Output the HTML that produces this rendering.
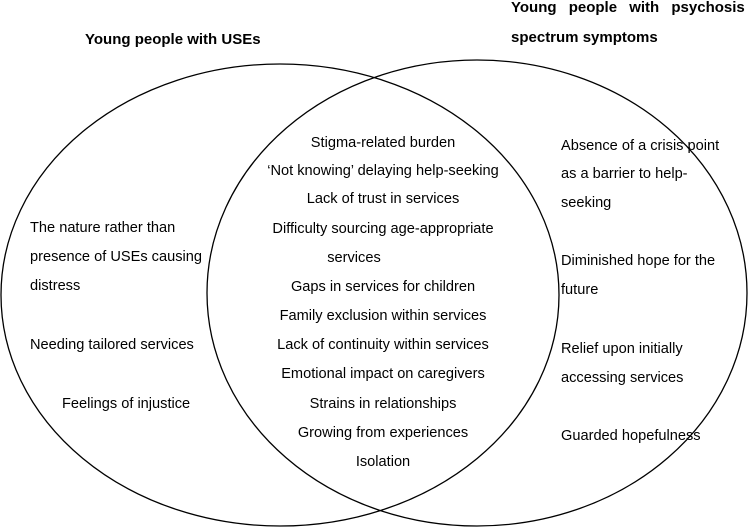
<!DOCTYPE html>
<html><head><meta charset="utf-8"><style>
body{margin:0;width:750px;height:529px;background:#fff;position:relative;overflow:hidden;font-family:"Liberation Sans",sans-serif;color:#000}
svg{position:absolute;left:0;top:0}
.t{position:absolute;font-size:14.6px;white-space:nowrap;line-height:16px;transform:translateY(-8px)}
.c{left:383px;transform:translate(-50%,-8px)}
.b{font-weight:bold;font-size:15px}
</style></head><body>
<svg width="750" height="529"><ellipse cx="280" cy="295" rx="279" ry="231" fill="none" stroke="#000" stroke-width="1.3"/><ellipse cx="477" cy="293" rx="270" ry="233" fill="none" stroke="#000" stroke-width="1.3"/></svg>
<div class="t b" style="left:85px;top:40px">Young people with USEs</div>
<div class="t b" style="left:511px;top:8px;word-spacing:8px">Young people with psychosis</div>
<div class="t b" style="left:511px;top:38px">spectrum symptoms</div>
<div class="t c" style="top:143px">Stigma-related burden</div>
<div class="t c" style="top:171px">‘Not knowing’ delaying help-seeking</div>
<div class="t c" style="top:199px">Lack of trust in services</div>
<div class="t c" style="top:229px">Difficulty sourcing age-appropriate</div>
<div class="t c" style="top:258px;left:354px">services</div>
<div class="t c" style="top:287px">Gaps in services for children</div>
<div class="t c" style="top:316px">Family exclusion within services</div>
<div class="t c" style="top:345px">Lack of continuity within services</div>
<div class="t c" style="top:374px">Emotional impact on caregivers</div>
<div class="t c" style="top:404px">Strains in relationships</div>
<div class="t c" style="top:433px">Growing from experiences</div>
<div class="t c" style="top:462px">Isolation</div>
<div class="t" style="left:30px;top:228px">The nature rather than</div>
<div class="t" style="left:30px;top:257px">presence of USEs causing</div>
<div class="t" style="left:30px;top:286px">distress</div>
<div class="t" style="left:30px;top:345px">Needing tailored services</div>
<div class="t" style="left:62px;top:404px">Feelings of injustice</div>
<div class="t" style="left:561px;top:146px">Absence of a crisis point</div>
<div class="t" style="left:561px;top:174px">as a barrier to help-</div>
<div class="t" style="left:561px;top:203px">seeking</div>
<div class="t" style="left:561px;top:261px">Diminished hope for the</div>
<div class="t" style="left:561px;top:290px">future</div>
<div class="t" style="left:561px;top:349px">Relief upon initially</div>
<div class="t" style="left:561px;top:378px">accessing services</div>
<div class="t" style="left:561px;top:436px">Guarded hopefulness</div>
</body></html>
